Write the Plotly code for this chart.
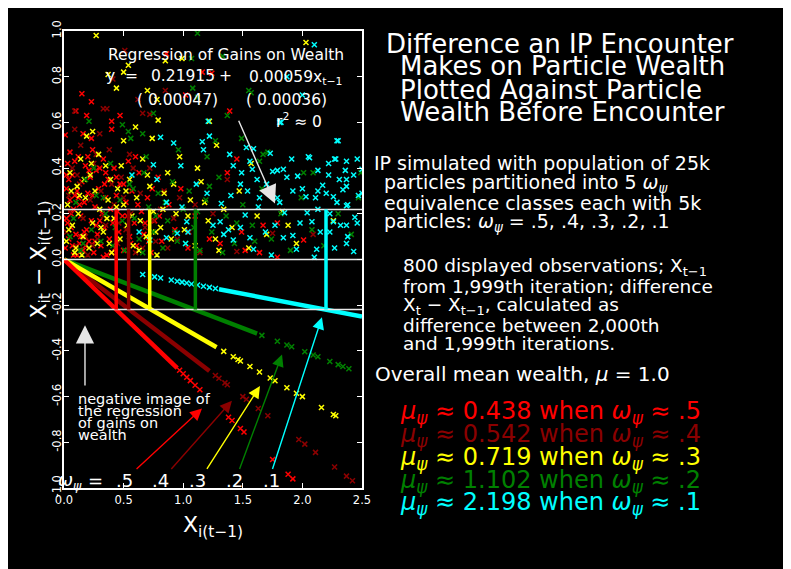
import plotly.graph_objects as go

# ---------------- data ----------------
omega = [0.5, 0.4, 0.3, 0.2, 0.1]
omega_labels = [".5", ".4", ".3", ".2", ".1"]
mu_class = [0.438, 0.542, 0.719, 1.102, 2.198]
mu_labels = ["0.438", "0.542", "0.719", "1.102", "2.198"]
colors = ["#FF0000", "#8B0000", "#FFFF00", "#008000", "#00FFFF"]

reg_intercept = 0.21915
x_ticks = [0.0, 0.5, 1.0, 1.5, 2.0, 2.5]
x_tick_text = ["0.0", "0.5", "1.0", "1.5", "2.0", "2.5"]
y_ticks = [-1.0, -0.8, -0.6, -0.4, -0.2, 0.0, 0.2, 0.4, 0.6, 0.8, 1.0]
y_tick_text = ["-1.0", "-0.8", "-0.6", "-0.4", "-0.2", "0.0", "0.2", "0.4", "0.6", "0.8", "1.0"]

# gains (positive differences)
red_gain_x = [0.01, 0.15, 0.23, 0.19, 0.47, 0.40, 0.40, 0.16, 0.23, 0.86, 1.02, 1.24, 1.39, 1.16, 0.10,
              1.45, 1.37, 1.49, 1.67, 1.79, 2.01, 1.79, 1.31, 1.64,
              0.01, 0.02, 0.02, 0.03, 0.04, 0.05, 0.05, 0.06, 0.07, 0.08, 0.08, 0.10, 0.11, 0.12, 0.13,
              0.14, 0.15, 0.16, 0.17, 0.18, 0.19, 0.20, 0.21, 0.22, 0.23, 0.24, 0.25, 0.26, 0.27, 0.28,
              0.29, 0.31, 0.32, 0.33, 0.34, 0.35, 0.36, 0.37, 0.38, 0.39, 0.41, 0.42, 0.43, 0.44, 0.46,
              0.47, 0.49, 0.50, 0.52, 0.54, 0.55, 0.57, 0.59, 0.61, 0.63, 0.65, 0.67, 0.70, 0.73, 0.76,
              0.79, 0.82, 0.88, 0.93, 0.98, 1.04, 1.10, 1.22, 1.52, 0.04, 0.09, 0.13, 0.18, 0.27, 0.30,
              0.06, 0.11, 0.20, 0.34,
              0.03, 0.07, 0.12, 0.17, 0.21, 0.26, 0.30, 0.35, 0.40, 0.45, 0.50, 0.56, 0.62, 0.68, 0.74,
              0.80, 0.02, 0.09, 0.14, 0.24, 0.33, 0.44, 0.53, 0.60, 0.71]
red_gain_y = [0.545, 0.725, 0.69, 0.63, 0.63, 0.605, 0.57, 0.55, 0.53, 0.90, 0.72, 0.815, 0.65, 0.82, 0.65,
              0.44, 0.38, 0.12, 0.15, 0.16, 0.085, 0.01, 0.07, 0.03,
              0.05, 0.18, 0.31, 0.42, 0.09, 0.26, 0.47, 0.14, 0.37, 0.02, 0.22, 0.11, 0.30, 0.45, 0.07,
              0.19, 0.34, 0.04, 0.25, 0.41, 0.13, 0.29, 0.08, 0.36, 0.17, 0.48, 0.03, 0.23, 0.39, 0.11,
              0.31, 0.06, 0.20, 0.44, 0.14, 0.27, 0.02, 0.35, 0.09, 0.22, 0.16, 0.40, 0.05, 0.28, 0.12,
              0.33, 0.19, 0.04, 0.25, 0.43, 0.10, 0.30, 0.16, 0.06, 0.38, 0.21, 0.11, 0.27, 0.03, 0.17,
              0.36, 0.08, 0.24, 0.13, 0.31, 0.05, 0.19, 0.09, 0.04, 0.35, 0.28, 0.24, 0.06, 0.15, 0.40,
              0.20, 0.02, 0.45, 0.33,
              0.16, 0.06, 0.27, 0.12, 0.39, 0.08, 0.17, 0.38, 0.03, 0.21, 0.33, 0.07, 0.24, 0.16, 0.31,
              0.19, 0.37, 0.43, 0.10, 0.28, 0.01, 0.36, 0.19, 0.45, 0.08]

dkred_gain_x = [0.51, 0.41, 0.85, 0.09, 0.33, 0.36, 0.66, 0.72, 0.09, 0.62, 1.37, 1.75, 2.09, 1.45,
                0.02, 0.04, 0.07, 0.10, 0.13, 0.16, 0.20, 0.22, 0.25, 0.28, 0.31, 0.35, 0.38, 0.42, 0.45,
                0.48, 0.52, 0.56, 0.60, 0.64, 0.68, 0.72, 0.77, 0.81, 0.87, 0.92, 0.97, 1.05, 1.14, 1.25,
                0.14, 0.30, 0.55,
                0.05, 0.11, 0.18, 0.24, 0.33, 0.40, 0.50, 0.58, 0.66, 0.75, 0.84, 0.95, 1.10, 0.27, 0.46]
dkred_gain_y = [0.915, 0.79, 0.74, 0.65, 0.66, 0.66, 0.64, 0.635, 0.57, 0.70, 0.35, 0.115, 0.11, 0.035,
                0.12, 0.28, 0.40, 0.06, 0.33, 0.18, 0.02, 0.26, 0.42, 0.09, 0.30, 0.15, 0.48, 0.24, 0.07,
                0.36, 0.13, 0.20, 0.03, 0.29, 0.14, 0.40, 0.08, 0.22, 0.05, 0.18, 0.27, 0.12, 0.03, 0.20,
                0.50, 0.55, 0.46,
                0.21, 0.37, 0.10, 0.06, 0.19, 0.33, 0.27, 0.40, 0.05, 0.17, 0.30, 0.09, 0.24, 0.46, 0.16]

yellow_gain_x = [0.27, 0.54, 0.50, 0.37, 0.44, 0.70, 0.85, 0.78, 0.79, 0.60, 0.24, 0.19, 0.50, 0.74, 0.99,
                 2.03, 1.22, 1.28,
                 0.02, 0.03, 0.05, 0.07, 0.09, 0.11, 0.12, 0.14, 0.16, 0.18, 0.21, 0.22, 0.24, 0.26, 0.28,
                 0.30, 0.33, 0.35, 0.37, 0.40, 0.42, 0.45, 0.47, 0.50, 0.53, 0.55, 0.58, 0.61, 0.64, 0.66,
                 0.69, 0.72, 0.75, 0.78, 0.81, 0.84, 0.87, 0.90, 0.94, 0.97, 1.01, 1.06, 1.10, 1.15, 1.21,
                 1.27, 1.34, 1.41, 1.47, 1.55, 1.62, 1.70, 1.83, 1.95, 2.26, 0.06, 0.15, 0.29, 0.39, 1.12,
                 1.57, 1.88,
                 0.04, 0.10, 0.17, 0.23, 0.31, 0.38, 0.44, 0.52, 0.57, 0.63, 0.70, 0.77, 0.83, 0.92, 1.04,
                 1.18, 1.30, 0.13, 0.36, 0.48]
yellow_gain_y = [0.98, 0.85, 0.82, 0.81, 0.75, 0.74, 0.87, 0.70, 0.61, 0.58, 0.56, 0.54, 0.52, 0.53, 0.88,
                 0.95, 0.605, 0.50,
                 0.08, 0.24, 0.38, 0.15, 0.03, 0.32, 0.20, 0.44, 0.10, 0.27, 0.05, 0.37, 0.16, 0.30, 0.07,
                 0.22, 0.12, 0.41, 0.26, 0.03, 0.18, 0.31, 0.09, 0.24, 0.15, 0.35, 0.06, 0.27, 0.17, 0.44,
                 0.10, 0.32, 0.21, 0.02, 0.14, 0.29, 0.38, 0.09, 0.20, 0.45, 0.13, 0.26, 0.06, 0.34, 0.17,
                 0.09, 0.22, 0.14, 0.30, 0.05, 0.19, 0.11, 0.21, 0.07, 0.17, 0.30, 0.02, 0.46, 0.35, 0.40,
                 0.42, 0.15,
                 0.13, 0.05, 0.35, 0.42, 0.14, 0.07, 0.23, 0.30, 0.19, 0.04, 0.37, 0.12, 0.22, 0.33, 0.19,
                 0.25, 0.04, 0.28, 0.18, 0.41]

green_gain_x = [1.12, 1.07, 1.08, 1.12, 0.75, 0.21, 0.49, 0.54, 0.66, 0.56, 1.33, 1.57, 1.37, 1.27, 1.49,
                1.64, 1.71, 1.55, 2.01, 2.09, 2.49, 1.67,
                0.05, 0.10, 0.14, 0.18, 0.23, 0.27, 0.31, 0.35, 0.39, 0.43, 0.47, 0.51, 0.55, 0.59, 0.63,
                0.67, 0.71, 0.75, 0.79, 0.83, 0.87, 0.91, 0.95, 1.00, 1.05, 1.09, 1.14, 1.19, 1.24, 1.30,
                1.36, 1.43, 1.50, 1.58, 1.66, 1.74, 1.82, 1.90, 1.99, 2.08, 2.18, 2.30, 2.41, 2.47, 0.69,
                0.96, 1.20,
                0.08, 0.16, 0.25, 0.33, 0.41, 0.49, 0.58, 0.66, 0.77, 0.85, 0.93, 1.02, 1.12, 1.22, 1.33,
                1.45, 1.60]
green_gain_y = [0.99, 0.88, 0.75, 0.71, 0.64, 0.605, 0.59, 0.56, 0.55, 0.53, 0.89, 0.73, 0.63, 0.52, 0.53,
                0.43, 0.47, 0.74, 0.38, 0.38, 0.38, 0.46,
                0.10, 0.25, 0.04, 0.35, 0.13, 0.28, 0.08, 0.20, 0.42, 0.14, 0.26, 0.04, 0.33, 0.18, 0.09,
                0.38, 0.23, 0.12, 0.29, 0.05, 0.17, 0.34, 0.08, 0.22, 0.30, 0.14, 0.04, 0.26, 0.12, 0.36,
                0.19, 0.07, 0.24, 0.15, 0.31, 0.09, 0.20, 0.04, 0.27, 0.13, 0.06, 0.20, 0.11, 0.27, 0.45,
                0.48, 0.45,
                0.18, 0.07, 0.40, 0.27, 0.06, 0.17, 0.31, 0.03, 0.19, 0.25, 0.12, 0.07, 0.21, 0.32, 0.03,
                0.16, 0.08]

cyan_gain_x = [2.10, 1.87, 2.00, 1.81, 1.22, 2.30, 0.81, 1.21, 1.16, 1.17, 1.39, 1.56, 1.59, 1.91, 2.06,
               2.29, 2.28, 2.37, 2.46, 2.50, 1.84, 1.79, 1.87, 1.58, 1.49, 1.48, 1.62, 1.54, 1.40, 1.92,
               2.00, 2.03, 2.11, 2.17, 2.26, 2.29, 2.23, 2.34, 2.38, 2.47, 2.36, 2.43, 2.22, 1.96, 1.70,
               1.79, 1.64, 1.81, 1.85, 2.04, 2.13, 2.37, 1.98, 2.08, 2.26, 2.32, 2.37, 2.46, 2.44, 2.23,
               2.15, 1.92, 1.84, 1.77, 1.69, 1.56, 1.48, 1.38, 1.31, 1.25, 1.34, 1.42, 1.59, 1.74, 1.95,
               2.12, 2.10, 2.27, 2.38, 2.43, 2.37, 1.32, 1.52, 1.63, 0.92, 0.75, 0.98, 0.57, 0.78, 1.11,
               1.20, 0.86, 0.99, 0.63, 0.72, 0.86, 0.95, 1.02, 1.04, 1.03, 1.82, 2.05, 2.22, 2.27, 2.13,
               2.37, 2.31, 1.75, 1.42, 1.73, 2.13, 2.20, 2.50, 2.37, 1.53]
cyan_gain_y = [0.94, 0.80, 0.72, 0.60, 0.54, 0.52, 0.535, 0.605, 0.515, 0.48, 0.46, 0.43, 0.485, 0.44, 0.445,
               0.52, 0.44, 0.43, 0.44, 0.395, 0.395, 0.39, 0.36, 0.395, 0.38, 0.33, 0.35, 0.30, 0.28, 0.30,
               0.31, 0.275, 0.27, 0.325, 0.275, 0.25, 0.20, 0.305, 0.24, 0.28, 0.39, 0.37, 0.37, 0.365, 0.33,
               0.27, 0.27, 0.25, 0.205, 0.205, 0.22, 0.235, 0.16, 0.165, 0.165, 0.15, 0.15, 0.16, 0.185, 0.12,
               0.12, 0.105, 0.095, 0.15, 0.12, 0.095, 0.14, 0.13, 0.165, 0.15, 0.11, 0.085, 0.045, 0.02, 0.045,
               0.045, 0.01, 0.05, 0.10, 0.035, 0.07, 0.245, 0.195, 0.23, 0.51, 0.415, 0.41, 0.37, 0.35, 0.33,
               0.29, 0.25, 0.23, 0.12, 0.085, 0.095, 0.115, 0.07, 0.12, 0.165, 0.60, 0.45, 0.42, 0.44, 0.39,
               0.35, 0.35, 0.385, 0.41, 0.465, 0.30, 0.29, 0.29, 0.32, 0.49]

# losses: dense bands (start/end) and sparse points
red_band_x = [0.0, 0.95]
red_band_y = [0.0, -0.475]
red_loss_x = [0.97, 1.00, 1.03, 1.06, 1.10, 1.14, 1.38, 1.41, 1.48, 1.51, 1.75, 1.88, 1.92]
red_loss_y = [-0.485, -0.50, -0.515, -0.53, -0.55, -0.57, -0.69, -0.705, -0.74, -0.755, -0.875, -0.94, -0.96]

dkred_band_x = [0.0, 1.22]
dkred_band_y = [0.0, -0.488]
dkred_loss_x = [1.27, 1.30, 1.35, 1.37, 1.50, 1.53, 1.63, 1.71, 1.97, 2.02, 2.11, 2.27, 2.37, 2.42]
dkred_loss_y = [-0.508, -0.52, -0.54, -0.548, -0.60, -0.612, -0.652, -0.684, -0.788, -0.808, -0.844,
                -0.908, -0.948, -0.968]

yellow_band_x = [0.0, 1.28]
yellow_band_y = [0.0, -0.384]
yellow_loss_x = [1.34, 1.42, 1.46, 1.48, 1.56, 1.64, 1.73, 1.77, 1.87, 1.95, 2.00, 2.16, 2.26, 2.28]
yellow_loss_y = [-0.402, -0.426, -0.438, -0.444, -0.468, -0.492, -0.519, -0.531, -0.561, -0.585, -0.60,
                 -0.648, -0.678, -0.684]

green_band_x = [0.0, 1.62]
green_band_y = [0.0, -0.324]
green_loss_x = [1.66, 1.79, 1.87, 1.91, 2.02, 2.09, 2.13, 2.23, 2.30, 2.34, 2.39]
green_loss_y = [-0.332, -0.358, -0.374, -0.382, -0.404, -0.418, -0.426, -0.446, -0.46, -0.468, -0.478]

cyan_band_x = [1.30, 2.50]
cyan_band_y = [-0.130, -0.250]
cyan_loss_x = [0.66, 0.76, 0.81, 0.90, 0.95, 0.99, 1.03, 1.07, 1.12, 1.17, 1.22, 1.27]
cyan_loss_y = [-0.066, -0.076, -0.081, -0.090, -0.095, -0.099, -0.103, -0.107, -0.112, -0.117, -0.122, -0.127]

gains = [(red_gain_x, red_gain_y), (dkred_gain_x, dkred_gain_y), (yellow_gain_x, yellow_gain_y),
         (green_gain_x, green_gain_y), (cyan_gain_x, cyan_gain_y)]
bands = [(red_band_x, red_band_y), (dkred_band_x, dkred_band_y), (yellow_band_x, yellow_band_y),
         (green_band_x, green_band_y), (cyan_band_x, cyan_band_y)]
losses = [(red_loss_x, red_loss_y), (dkred_loss_x, dkred_loss_y), (yellow_loss_x, yellow_loss_y),
          (green_loss_x, green_loss_y), (cyan_loss_x, cyan_loss_y)]

# arrows (head x, head y, tail x, tail y) in data units
arrow_heads_x = [1.158, 1.409, 1.644, 1.829, 2.164]
arrow_heads_y = [-0.652, -0.618, -0.554, -0.416, -0.253]
arrow_tails_x = [0.596, 0.889, 1.191, 1.468, 1.745]
arrow_tails_y = [-0.923, -0.923, -0.923, -0.923, -0.923]

# ---------------- layout helpers ----------------
W, H = 791, 569
OFFX, OFFY = 8, 8  # default page body margin
ML, MR, MT, MB = 56, 437, 14, 89
PW = W - ML - MR
PH = H - MT - MB
FONT = "DejaVu Sans"


def px_x(p):
    # p given in screen pixels
    return (p - OFFX - ML) / PW


def px_y(p):
    return (H - MB - (p - OFFY)) / PH


fig = go.Figure()

# gain clouds
for (gx, gy), c in zip(gains, colors):
    fig.add_trace(go.Scatter(x=gx, y=gy, mode="markers", hoverinfo="skip",
                             marker=dict(symbol="x-thin", size=5, line=dict(width=1.5, color=c))))

# loss bands & sparse loss points (draw cyan first, red last)
for i in [4, 3, 1, 2, 0]:
    c = colors[i]
    bx, by = bands[i]
    lx, ly = losses[i]
    fig.add_trace(go.Scatter(x=bx, y=by, mode="lines", hoverinfo="skip",
                             line=dict(color=c, width=4.5)))
    fig.add_trace(go.Scatter(x=lx, y=ly, mode="markers", hoverinfo="skip",
                             marker=dict(symbol="x-thin", size=5, line=dict(width=1.5, color=c))))

# horizontal reference lines
for yv in [reg_intercept, 0.0, -reg_intercept]:
    fig.add_trace(go.Scatter(x=[0, 2.5], y=[yv, yv], mode="lines", hoverinfo="skip",
                             line=dict(color="#E8E8E8", width=1.5)))

# vertical lines at class mean wealth
for m, c in zip(mu_class, colors):
    fig.add_trace(go.Scatter(x=[m, m], y=[-reg_intercept, reg_intercept], mode="lines", hoverinfo="skip",
                             line=dict(color=c, width=3.5)))

ann = []


def txt(s, xp, yp, size, color="white", xanchor="left", angle=0):
    return dict(text=s, x=px_x(xp), y=px_y(yp), xref="paper", yref="paper", xanchor=xanchor,
                yanchor="middle", showarrow=False, textangle=angle,
                font=dict(family=FONT, size=size, color=color))


# right-hand title
ann.append(txt("Difference an IP Encounter", 384, 35, 26))
ann.append(txt("Makes on Particle Wealth", 398, 58, 26))
ann.append(txt("Plotted Against Particle", 398, 82, 26))
ann.append(txt("Wealth Before Encounter", 398, 105, 26))

# description block 1
ann.append(txt("IP simulated with population of 25k", 372, 157, 19))
ann.append(txt("particles partitioned into 5 <i>ω</i><sub><i>ψ</i></sub>", 382, 177, 19))
ann.append(txt("equivalence classes each with 5k", 382, 197, 19))
ann.append(txt("particles: <i>ω</i><sub><i>ψ</i></sub> = .5, .4, .3, .2, .1", 382, 217, 19))

# description block 2
ann.append(txt("800 displayed observations; X<sub>t−1</sub>", 401, 263, 18.5))
ann.append(txt("from 1,999th iteration; difference", 401, 283, 18.5))
ann.append(txt("X<sub>t</sub> − X<sub>t−1</sub>, calculated as", 401, 302, 18.5))
ann.append(txt("difference between 2,000th", 401, 322, 18.5))
ann.append(txt("and 1,999th iterations.", 401, 341, 18.5))

ann.append(txt("Overall mean wealth, <i>μ</i> = 1.0", 373, 372, 20))

# class mean lines
for k, (ml, ol, c) in enumerate(zip(mu_labels, omega_labels, colors)):
    s = ("<i>μ</i><sub><i>ψ</i></sub> ≈ " + ml + " when <i>ω</i><sub><i>ψ</i></sub> ≈ " + ol)
    ann.append(txt(s, 398, 411 + k * 23.3, 24, color=c))

# regression text inside plot
ann.append(txt("Regression of Gains on Wealth", 106, 46, 15.5))
ann.append(txt("y\u00a0\u00a0=", 104, 68, 15.5))
ann.append(txt("0.21915", 149, 68, 15.5))
ann.append(txt("+", 217, 68, 15.5))
ann.append(txt("0.00059x<sub>t−1</sub>", 247, 70, 15.5))
ann.append(txt("(\u00a00.00047)", 135, 92, 15.5))
ann.append(txt("(\u00a00.00036)", 244, 92, 15.5))
ann.append(txt("r<sup>2</sup> ≈ 0", 274, 113, 15.5))

# negative image note
ann.append(txt("negative image of", 76, 397, 14.5))
ann.append(txt("the regression", 76, 409.5, 14.5))
ann.append(txt("of gains on", 76, 422, 14.5))
ann.append(txt("wealth", 76, 434, 14.5))

# omega row at bottom
ann.append(txt("<i>ω</i><sub><i>ψ</i></sub>", 56, 481, 18))
ann.append(txt("=", 95, 480, 18, xanchor="center"))
for lab, cx in zip(omega_labels, [124, 160, 197, 234, 271]):
    ann.append(txt(lab, cx, 480, 18, xanchor="center"))

# axis titles
ann.append(txt("X<sub>it</sub> − X<sub>i(t−1)</sub>", 40, 255, 22, xanchor="center", angle=-90))
ann.append(txt("X<sub>i(t−1)</sub>", 213, 527, 22, xanchor="center"))

# coloured arrows
for hx, hy, tx, ty, c in zip(arrow_heads_x, arrow_heads_y, arrow_tails_x, arrow_tails_y, colors):
    ann.append(dict(x=hx, y=hy, ax=tx, ay=ty, xref="x", yref="y", axref="x", ayref="y",
                    text="", showarrow=True, arrowhead=2, arrowsize=1.7, arrowwidth=1.4,
                    arrowcolor=c, standoff=0, startstandoff=0))

# white arrows
ann.append(dict(x=1.77, y=0.245, ax=1.46, ay=0.614, xref="x", yref="y", axref="x", ayref="y",
                text="", showarrow=True, arrowhead=2, arrowsize=2.6, arrowwidth=1.4,
                arrowcolor="#E6E6E6", standoff=0))
ann.append(dict(x=0.176, y=-0.288, ax=0.176, ay=-0.558, xref="x", yref="y", axref="x", ayref="y",
                text="", showarrow=True, arrowhead=2, arrowsize=2.6, arrowwidth=1.4,
                arrowcolor="#E6E6E6", standoff=0))

axis_common = dict(showgrid=False, zeroline=False, showline=True, linecolor="white", linewidth=1.5,
                   mirror="allticks", ticks="inside", ticklen=5, tickwidth=1, tickcolor="white",
                   tickfont=dict(family=FONT, size=11.5, color="white"))

fig.update_layout(
    width=W, height=H,
    margin=dict(l=ML, r=MR, t=MT, b=MB, pad=0),
    paper_bgcolor="black", plot_bgcolor="black",
    showlegend=False,
    xaxis=dict(range=[0, 2.5], tickvals=x_ticks, ticktext=x_tick_text, **axis_common),
    yaxis=dict(range=[-1.0, 1.0], tickvals=y_ticks, ticktext=y_tick_text, tickangle=-90,
               ticklabelstandoff=-3, **axis_common),
    annotations=ann,
)

fig.write_html("out.html")
